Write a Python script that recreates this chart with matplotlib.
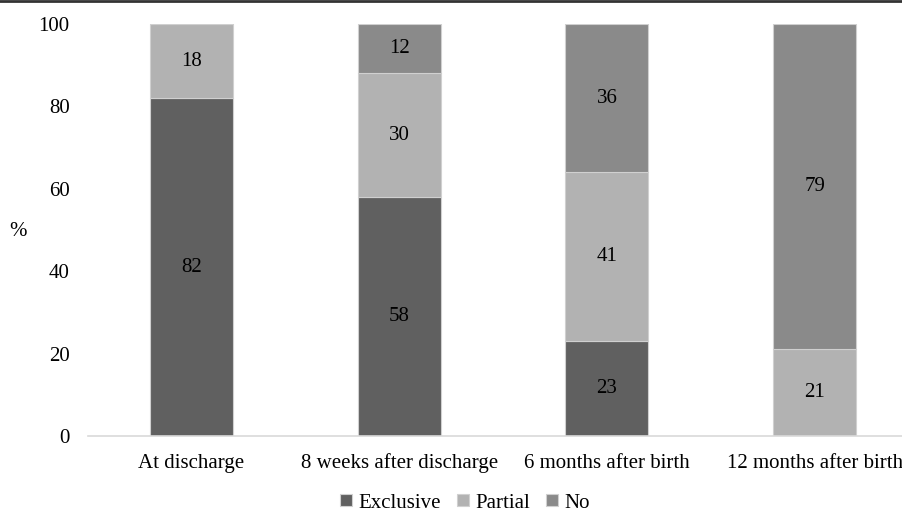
import matplotlib.pyplot as plt
import numpy as np
from matplotlib.lines import Line2D

plt.rcParams['font.family'] = ['Liberation Serif', 'DejaVu Serif']

categories = ['At discharge', '8 weeks after discharge', '6 months after birth', '12 months after birth']
exclusive = [82, 58, 23, 0]
partial = [18, 30, 41, 21]
no = [0, 12, 36, 79]

series = [('Exclusive', exclusive, '#606060'),
          ('Partial', partial, '#b2b2b2'),
          ('No', no, '#8a8a8a')]

fs = 15

fig = plt.figure(figsize=(9.03, 5.11), dpi=100)
ax = fig.add_axes([87.7 / 903, 75 / 511, 830.8 / 903, 412 / 511])

x = np.arange(len(categories))
bottom = np.zeros(len(categories))
for name, vals, color in series:
    vals = np.array(vals, dtype=float)
    ax.bar(x, vals, 0.4, bottom=bottom, color=color, edgecolor='#d0d0d0',
           linewidth=0.8, label=name)
    for xi, b, v in zip(x, bottom, vals):
        if v > 0:
            ax.text(xi, b + v / 2, f'{v:.0f}', ha='center', va='center',
                    fontsize=fs, color='black')
    bottom += vals

ax.set_xlim(-0.5, 3.5)
ax.set_ylim(0, 100)
ax.set_yticks(range(0, 101, 20))
ax.set_xticks(x)
ax.set_xticklabels(categories, va='baseline')
ax.tick_params(axis='both', length=0, labelsize=fs)
ax.tick_params(axis='y', pad=13)
ax.tick_params(axis='x', pad=23)
for s in ['top', 'right', 'left']:
    ax.spines[s].set_visible(False)
ax.spines['bottom'].set_color('#d9d9d9')
ax.spines['bottom'].set_linewidth(1.2)

fig.text(18 / 903, 1 - 231 / 511, '%', fontsize=fs, ha='center', va='center')

ax.legend(loc='center', bbox_to_anchor=(465 / 903, 8 / 511),
          bbox_transform=fig.transFigure, ncol=3, frameon=False,
          fontsize=fs, handlelength=0.55, handleheight=0.55,
          handletextpad=0.3, columnspacing=0.8)

fig.add_artist(Line2D([0, 1], [1 - 1 / 511, 1 - 1 / 511], color='#333333',
                      linewidth=2, transform=fig.transFigure))

fig.savefig('out.png', dpi=100)
